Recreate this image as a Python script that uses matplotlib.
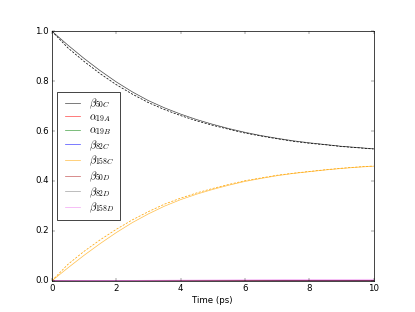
import matplotlib
matplotlib.use("Agg")
import matplotlib.pyplot as plt

plt.style.use('classic')
plt.rcParams['mathtext.fontset'] = 'cm'

t = [0, 0.5, 1, 1.5, 2, 2.5, 3, 3.5, 4, 4.5, 5, 5.5, 6, 6.5, 7, 7.5, 8, 8.5, 9, 9.5, 10]

beta50C = [1.0, 0.944, 0.891, 0.842, 0.797, 0.757, 0.722, 0.693, 0.668, 0.646, 0.627,
           0.610, 0.595, 0.582, 0.571, 0.561, 0.553, 0.546, 0.539, 0.534, 0.529]
beta50C_ref = [1.0, 0.933, 0.879, 0.830, 0.786, 0.748, 0.714, 0.686, 0.662, 0.641, 0.623,
               0.607, 0.592, 0.580, 0.569, 0.559, 0.551, 0.545, 0.538, 0.533, 0.528]
beta158C = [0.0, 0.052, 0.102, 0.149, 0.193, 0.233, 0.268, 0.299, 0.325, 0.347, 0.366,
            0.383, 0.398, 0.410, 0.421, 0.430, 0.437, 0.444, 0.450, 0.455, 0.459]
beta158C_ref = [0.0, 0.066, 0.118, 0.164, 0.206, 0.244, 0.277, 0.307, 0.331, 0.352, 0.370,
                0.386, 0.401, 0.412, 0.423, 0.431, 0.438, 0.445, 0.451, 0.456, 0.460]
alpha19A = [0, 0, 0, 0, 0, 0, 0, 0, 0, 0, 0, 0, 0, 0, 0, 0, 0, 0, 0, 0.0005, 0.0005]
alpha19B = [0, 0, 0, 0, 0, 0, 0, 0, 0, 0, 0, 0, 0, 0, 0, 0, 0, 0, 0, 0.0005, 0.0005]
beta82C = [0, 0, 0, 0, 0, 0, 0, 0, 0, 0, 0, 0, 0, 0, 0.0005, 0.0005, 0.0005, 0.0008, 0.001, 0.001, 0.001]
beta50D = [0, 0, 0, 0, 0, 0.0003, 0.0005, 0.0005, 0.0006, 0.0008, 0.001, 0.001, 0.001, 0.001,
           0.001, 0.001, 0.001, 0.001, 0.001, 0.001, 0.001]
beta82D = [0] * 21
beta158D = [0, 0.0003, 0.0006, 0.0008, 0.0013, 0.0016, 0.002, 0.0023, 0.0027, 0.003, 0.0033,
            0.0036, 0.004, 0.0043, 0.0045, 0.0048, 0.005, 0.0053, 0.0055, 0.0058, 0.006]

labels = [r'$\beta_{50C}$', r'$\alpha_{19A}$', r'$\alpha_{19B}$', r'$\beta_{82C}$',
          r'$\beta_{158C}$', r'$\beta_{50D}$', r'$\beta_{82D}$', r'$\beta_{158D}$']
series = [beta50C, alpha19A, alpha19B, beta82C, beta158C, beta50D, beta82D, beta158D]
colors = ['black', 'red', 'green', 'blue', 'orange', '#b22222', 'gray', 'violet']

fig = plt.figure(figsize=(415/52, 312/52), dpi=52)
ax = fig.add_subplot(111)
for s, c, l in zip(series, colors, labels):
    ax.plot(t, s, color=c, label=l, alpha=0.7, lw=1)
ax.plot(t, beta50C_ref, color='black', ls='--', lw=1, dashes=(3, 2))
ax.plot(t, beta158C_ref, color='orange', ls='--', lw=1, dashes=(3, 2))

ax.set_xlim(0, 10)
ax.set_ylim(0, 1.0)
ax.set_xlabel('Time (ps)')
ax.legend(loc='center left', fontsize=15, labelspacing=0.12, handlelength=1.9,
          handletextpad=0.6, borderpad=0.45, borderaxespad=0.5)
fig.savefig('out.png', dpi=52)
